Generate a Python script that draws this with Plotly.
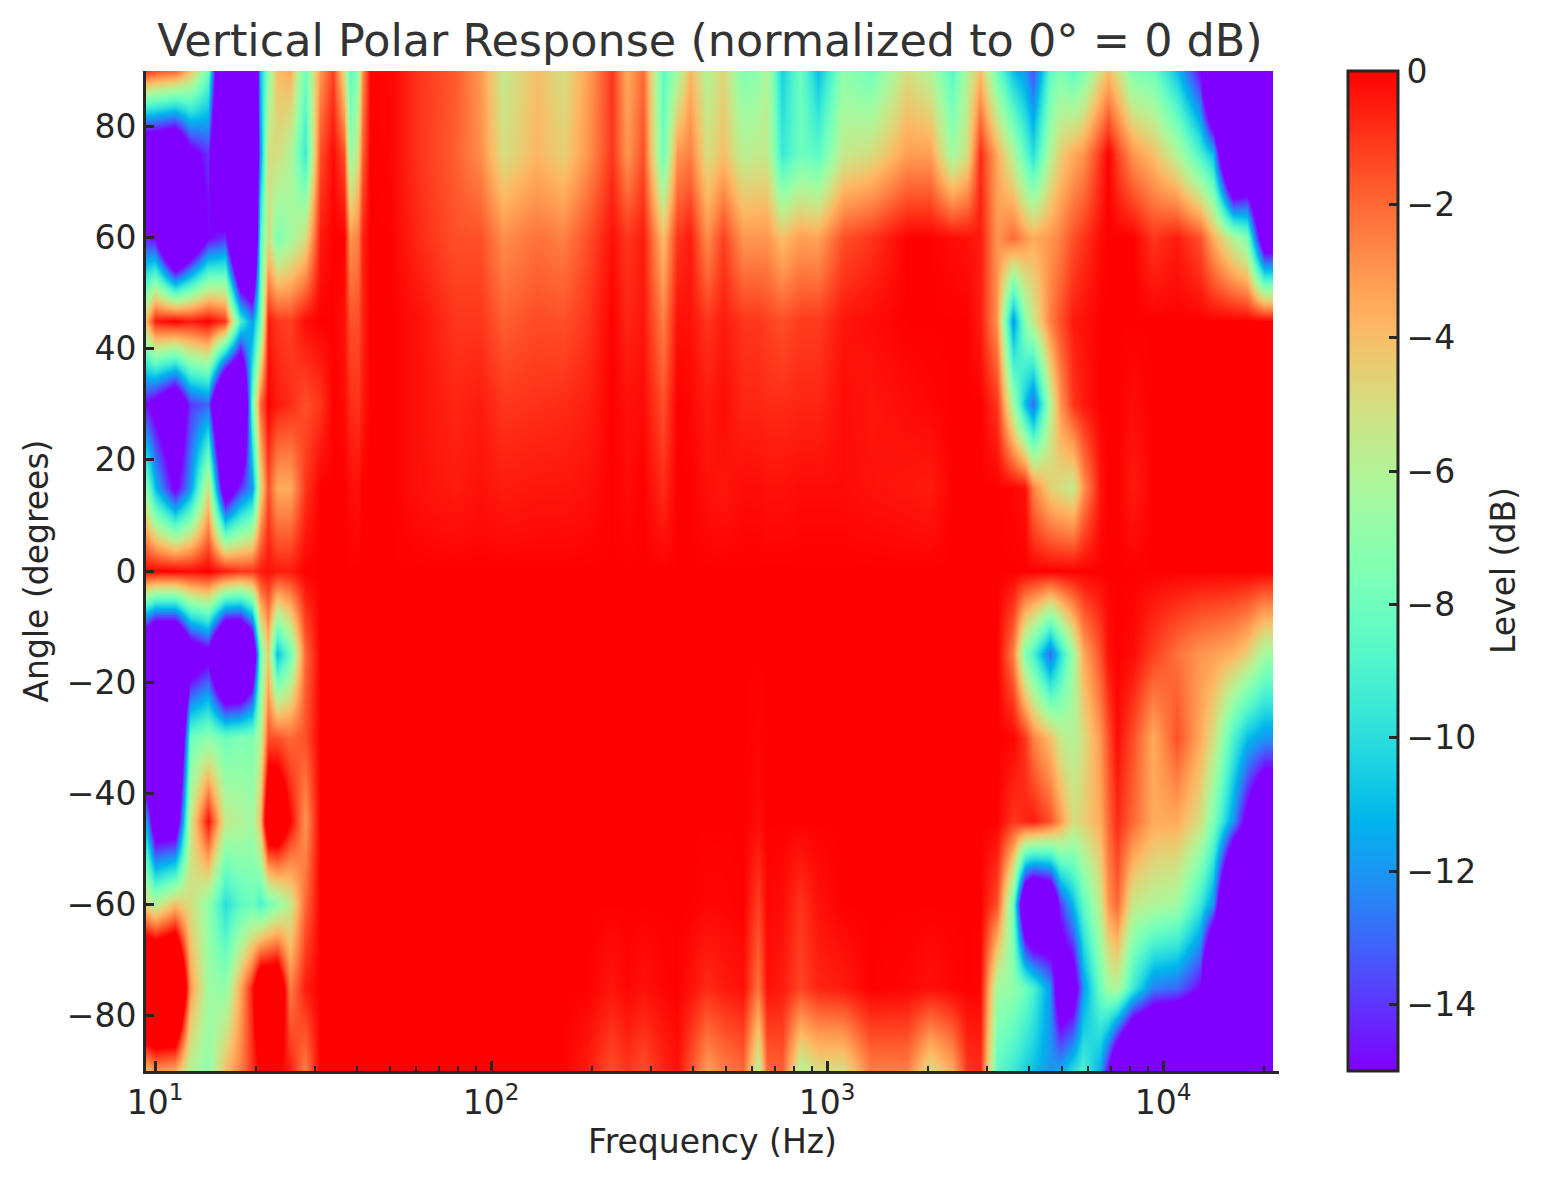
import math
import plotly.graph_objects as go

angles = [90, 75, 60, 45, 30, 15, 0, -15, -30, -45, -60, -75, -90]

# level in dB per angle, one list per measured frequency
f9_47 = [-1,-20,-14.5,-3.5,-15,-7.5,0,-22,-22,-12,-5,8,-4]
f10 = [-1.5,-20,-15,-0.5,-16,-11,0,-25,-25,-18,-6,8,-3]
f11_47 = [-2,-21,-25,0,-19,-15.5,0,-25,-25,-18,-4,8,-3.5]
f12_71 = [-4,-16,-20,-0.5,-14,-12,-0.2,-18,-8,-5.5,-5,-3,-6]
f14_38 = [-8,-14,-15,0,-13,-5,0,-16,-7,-0.2,-7,-6.5,-7]
f16_16 = [-25,-25,-14,-1,-25,-18,-0.5,-25,-8,-5.5,-10,-7,-4]
f17_91 = [-25,-25,-25,-9,-25,-14,-1,-25,-7.5,-6,-8.5,-3.5,-2.5]
f19_45 = [-25,-25,-25,-12,-8,-12,-1,-20,-7.5,-6.5,-8,-0.5,-1]
f20_54 = [-11,-12,-9,-8,-2,-5,-0.5,-8,-6,-4,-9,3,0]
f21_69 = [-7,-5,-5,-0.5,0,-1.5,-0.3,-4.5,-1.5,3,-8,3,0]
f23_08 = [-4,-5,-7.5,-1,-0.5,-3.5,-0.5,-11,-1.5,3,-7,3,0]
f25_23 = [-3.5,-6,-6.5,-1.2,-0.8,-3.5,-0.5,-8,-2,0,-5.5,-2.5,-0.5]
f27_95 = [-8,-9.5,-5,-0.2,-1.5,-1,0,-2,-1.5,-3,-2,-0.5,-2.5]
f30_98 = [-3,-1.5,-0.5,0,-1,0,0,0,0,0,0,0,0]
f33_87 = [-1.2,-0.2,0,0,0,0,0,0,0,0,0,0,0]
f36_52 = [-5,-1.5,0,-0.3,-0.2,0,0,0,0,0,0,0,0]
f38_05 = [-8.5,-7,-3,-1.5,-0.8,-0.2,0,0,0,0,0,0,0]
f40_2 = [-7,-5,-2.5,-1.5,-1,-0.3,0,0,0,0,0,0,0]
f41_4 = [-3,-2,-0.7,-0.7,-0.5,0,0,0,0,0,0,0,0]
f43_6 = [-0.1,0,0,0,0,0,0,0,0,0,0,0,0]
f50_05 = [-0.1,-0.1,0,0,0,0,0,0,0,0,0,0,0]
f61_5 = [-1,-1,-0.8,-0.3,-0.3,-0.3,0,0,0,0,0,0,0]
f78_2 = [-1.7,-1.8,-1.5,-1,-0.7,-0.5,0,0,0,0,0,0,0]
f92_7 = [-3,-2.8,-1.5,-1,-0.5,-0.3,0,0,0,0,0,0,0]
f108_6 = [-5.5,-5,-2.8,-1.8,-1,-0.5,0,0,0,0,0,0,0]
f137_1 = [-4,-3.8,-2.2,-1.4,-0.9,-0.4,0,0,0,0,0,0,0]
f163_8 = [-5,-4.5,-2.5,-1.5,-0.8,-0.4,0,0,0,0,0,0,0]
f193_1 = [-3.3,-3,-1.5,-1,-0.6,-0.3,0,0,0,0,0,0,-0.5]
f229_1 = [-1,-1,-0.3,0,0,0,0,0,0,0,0,-0.4,-1.5]
f254 = [-3.5,-3,-1,-0.7,-0.3,-0.2,0,0,0,0,0,-0.1,-1]
f283_4 = [-2,-1.5,-0.5,-0.4,-0.2,0,0,0,0,0,0,-0.3,-1.5]
f325 = [-8.5,-8,-4,-2.5,-1.5,-0.8,0,0,0,0,0,-0.1,-0.7]
f357_8 = [-6.5,-3,-1,-0.3,0,0,0,0,0,0,0,0,-0.3]
f391_1 = [-3.8,-2.5,-0.5,-0.3,-0.1,0,0,0,0,0,0,-0.3,-1.5]
f439_5 = [-6,-5,-2.8,-1,-0.5,-0.3,0,0,0,0,-0.1,-0.8,-3.2]
f490_4 = [-4.7,-4,-1.2,-0.5,-0.2,-0.4,0,0,0,0,-0.1,-0.5,-2.5]
f562_3 = [-7.5,-5.8,-3,-1,-0.7,-0.2,0,0,0,0,0,-0.3,-2]
f623_2 = [-7,-5.5,-3,-1,-0.7,-0.2,0,0,-0.1,-0.2,-1.2,-2.2,-6]
f665 = [-6,-5.5,-3,-1.2,-0.8,-0.3,0,0,0,0,-0.1,-0.3,-2]
f734_7 = [-10.5,-9.5,-4,-1.5,-0.8,-0.3,0,0,0,0,-0.2,-0.5,-1.8]
f831_1 = [-8,-8,-3.2,-1.1,-0.7,-0.2,0,0,0,0,-1,-1.3,-6]
f940_1 = [-11,-8.5,-3.3,-1.1,-0.7,-0.2,0,0,0,0,-0.3,-0.7,-5]
f1116 = [-7,-5.5,-1.5,-0.4,-0.2,-0.2,0,0,0,0,0,-0.5,-5]
f1343 = [-8,-5,-1,-0.2,-0.4,-0.3,0,0,0,0,0,0,-2.5]
f1730 = [-5,-3.2,0,0,-0.2,-0.4,0,0,0,0,0,-0.1,-2.5]
f2026 = [-6,-3.2,0,0,-0.1,-0.5,0,0,0,0,0,-0.3,-5]
f2355 = [-8.7,-6.5,-0.2,0,0,0,0,0,0,0,0,-0.1,-3.5]
f2610 = [-6,-5,-0.3,0,0,0,0,0,0,0,0,0,-1]
f2853 = [-4,-0.8,-0.5,-0.5,0,0,0,0,0,0,0,-0.1,-0.8]
f3206 = [-8,-3.5,-3,-3,-1,0,0,0,0,0,-1.5,-6.5,-8.5]
f3578 = [-11,-6,-2,-12,-6.5,-0.1,0,-2.5,-0.1,-1,-8,-7,-9.5]
f3884 = [-12,-8.5,-3,-7,-11,-0.3,0,-7.5,-1,-0.7,-20,-8,-10.5]
f4103 = [-13.5,-10,-3.5,-5.5,-13,-2.5,0,-9,-2.5,-0.5,-22,-9,-11]
f4610 = [-8.5,-6,-3,-2.5,-6,-4.5,0,-13,-4,-1.5,-20,-12,-12]
f4938 = [-7.5,-4.5,-2.5,-1.5,-3,-5,0,-10,-5.5,-3,-14,-18,-11.5]
f5396 = [-8.5,-3.5,-1.5,-0.5,-1,-5.5,0,-6.5,-6,-5,-11,-17,-10]
f5781 = [-7.5,-3,-1,-0.3,-0.5,-3,0,-3.5,-5,-4.5,-8.5,-12,-9]
f6494 = [-5,-1,-0.2,0,0,-0.4,0,-1.5,-3,-3.5,-5.5,-8,-11.5]
f6860 = [-4,0,0,0,0,0,0,-0.3,-1.5,-2,-3,-6.5,-15]
f7296 = [-5,-1.2,0,0,0,0,0,0,-0.2,-0.8,-2,-6,-20]
f8140 = [-7.5,-3,0,0,-0.2,-0.5,0,-0.2,-1.5,-2,-5.5,-9.5,-25]
f9337 = [-8,-4,-1,0,0,0,0,-1.2,-3.5,-3.5,-6,-12.5,-25]
f11010 = [-11,-6,-0.5,0,0,0,0,-2.2,-1.5,-3.5,-6.5,-13,-25]
f12884 = [-15,-9,-1.5,0,0,0,0,-3,-3.5,-5,-9.5,-15,-25]
f14090 = [-25,-11,-3.5,0,0,0,0,-3.2,-5,-7.5,-12,-25,-25]
f16160 = [-25,-25,-6,0,0,0,0,-3.7,-9,-12,-25,-25,-25]
f17783 = [-25,-22,-7.5,0,0,0,0,-4.5,-11,-16,-25,-25,-25]
f20000 = [-25,-25,-18,0,0,0,0,-6.5,-12,-20,-25,-25,-25]

frequencies = [9.47, 10, 11.47, 12.71, 14.38, 16.16, 17.91, 19.45, 20.54, 21.69, 23.08, 25.23,
               27.95, 30.98, 33.87, 36.52, 38.05, 40.2, 41.4, 43.6, 50.05, 61.5, 78.2, 92.7, 108.6,
               137.1, 163.8, 193.1, 229.1, 254, 283.4, 325, 357.8, 391.1, 439.5, 490.4, 562.3,
               623.2, 665, 734.7, 831.1, 940.1, 1116, 1343, 1730, 2026, 2355, 2610, 2853, 3206,
               3578, 3884, 4103, 4610, 4938, 5396, 5781, 6494, 6860, 7296, 8140, 9337, 11010,
               12884, 14090, 16160, 17783, 20000]
columns = [f9_47, f10, f11_47, f12_71, f14_38, f16_16, f17_91, f19_45, f20_54, f21_69, f23_08, f25_23,
           f27_95, f30_98, f33_87, f36_52, f38_05, f40_2, f41_4, f43_6, f50_05, f61_5, f78_2, f92_7, f108_6,
           f137_1, f163_8, f193_1, f229_1, f254, f283_4, f325, f357_8, f391_1, f439_5, f490_4, f562_3,
           f623_2, f665, f734_7, f831_1, f940_1, f1116, f1343, f1730, f2026, f2355, f2610, f2853, f3206,
           f3578, f3884, f4103, f4610, f4938, f5396, f5781, f6494, f6860, f7296, f8140, f9337, f11010,
           f12884, f14090, f16160, f17783, f20000]

colorbar_ticks = [0, -2, -4, -6, -8, -10, -12, -14]
angle_ticks = [80, 60, 40, 20, 0, -20, -40, -60, -80]
major_ticks = [10, 100, 1000, 10000]
major_labels = ["10<sup>1</sup>", "10<sup>2</sup>", "10<sup>3</sup>", "10<sup>4</sup>"]
minor_ticks = [m * d for d in (10, 100, 1000) for m in range(2, 10)] + [20000]

levels = [list(row) for row in zip(*columns)]

# matplotlib "rainbow" colormap
rainbow = []
for i in range(65):
    t = i / 64
    r = min(1, abs(2 * t - 0.5))
    g = math.sin(math.pi * t)
    b = math.cos(math.pi * t / 2)
    rainbow.append([t, f"rgb({round(r*255)},{round(g*255)},{round(b*255)})"])

INK = "#262626"
FONT = "DejaVu Sans"
L, R, T, B = 146, 1279, 71, 1071

fig = go.Figure(go.Heatmap(
    x=frequencies, y=angles, z=levels, zmin=-15, zmax=0, zsmooth="best",
    colorscale=rainbow,
    colorbar=dict(
        x=(1348 - L) / (R - L), xref="paper", xanchor="left", xpad=0,
        y=0.5, yanchor="middle", ypad=0, len=1, lenmode="fraction",
        thickness=50, thicknessmode="pixels",
        outlinecolor=INK, outlinewidth=3, borderwidth=0,
        tickmode="array", tickvals=colorbar_ticks, ticks="inside", ticklen=10,
        tickwidth=2.5, tickcolor=INK, tickfont=dict(size=33, color=INK, family=FONT),
    ),
))

fig.update_layout(
    width=1542, height=1180, autosize=False,
    margin=dict(l=L, r=1542 - R, t=T, b=1180 - B, pad=0),
    paper_bgcolor="white", plot_bgcolor="white",
    font=dict(family=FONT, color=INK),
    title=dict(
        text="Vertical Polar Response (normalized to 0° = 0 dB)",
        x=(710 - L) / (R - L), xanchor="center", xref="paper", y=0.966, yanchor="middle",
        font=dict(size=44.5, color="#333333", family=FONT),
    ),
    xaxis=dict(
        type="log", range=[0.9732, 4.3452], showgrid=False, zeroline=False,
        tickmode="array", tickvals=major_ticks, ticktext=major_labels,
        ticks="inside", ticklen=10, tickwidth=2.5, tickcolor=INK,
        showline=True, linewidth=3, linecolor=INK, mirror=False,
        tickfont=dict(size=33, color=INK, family=FONT),
        title=dict(text="Frequency (Hz)", standoff=10, font=dict(size=33, color=INK, family=FONT)),
        minor=dict(tickmode="array", tickvals=minor_ticks, ticks="inside", ticklen=5,
                   tickwidth=2, tickcolor=INK, showgrid=False),
    ),
    yaxis=dict(
        range=[-90, 90], showgrid=False, zeroline=False,
        tickmode="array", tickvals=angle_ticks,
        ticks="inside", ticklen=8, tickwidth=2.5, tickcolor=INK,
        showline=True, linewidth=3, linecolor=INK, mirror=False,
        tickfont=dict(size=33, color=INK, family=FONT),
        title=dict(text="Angle (degrees)", standoff=9, font=dict(size=33, color=INK, family=FONT)),
    ),
    annotations=[dict(
        text="Level (dB)", xref="paper", yref="paper",
        x=(1503 - L) / (R - L), y=0.5, xanchor="center", yanchor="middle",
        textangle=-90, showarrow=False, font=dict(size=33, color=INK, family=FONT),
    )],
)

fig.write_html("out.html", post_script="document.body.style.margin='0';",
               config={"displayModeBar": False})
